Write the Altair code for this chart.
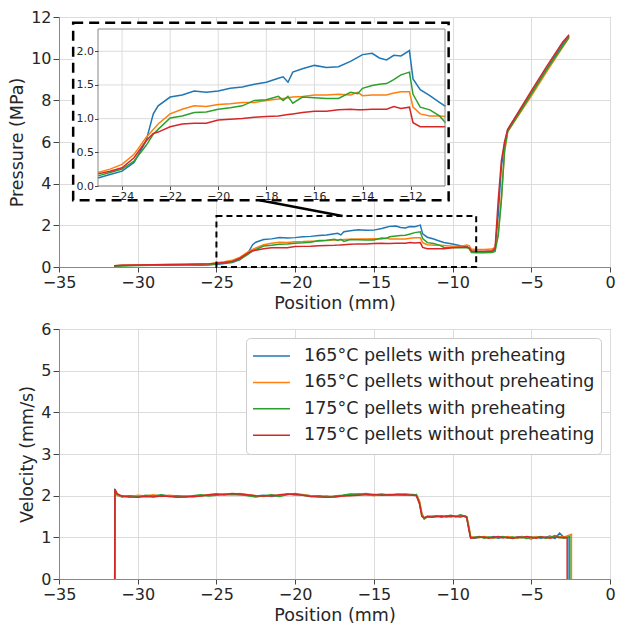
import altair as alt
import pandas as pd

SERIES = ["165°C pellets with preheating", "165°C pellets without preheating",
          "175°C pellets with preheating", "175°C pellets without preheating"]
COLORS = ["#1f77b4", "#ff7f0e", "#2ca02c", "#d62728"]

X_TICKS = [-35, -30, -25, -20, -15, -10, -5, 0]
P_TICKS = [0, 2, 4, 6, 8, 10, 12]
V_TICKS = [0, 1, 2, 3, 4, 5, 6]
INSET_X_TICKS = [-24, -22, -20, -18, -16, -14, -12]
INSET_Y_TICKS = [0.0, 0.5, 1.0, 1.5, 2.0]
INSET_X_DOMAIN = [-25.0, -10.57]
INSET_Y_DOMAIN = [0.0, 2.33]
ZOOM_BOX = [-25.0, -8.5, 0.0, 2.45]          # x, x2, y, y2 (data units)
INSET_BOX = [-34.1, -10.25, 3.2, 11.72]       # x, x2, y, y2 (data units)
CONNECTOR = [-22.25, 3.2, -17.0, 2.45]        # x, y, x2, y2 (data units)

# ---------------- pressure ----------------
P_X = [-31.5, -31.0, -30.0, -29.0, -28.0, -27.0, -26.0, -25.5, -25.0, -24.5,
       -24.0, -23.5, -23.0, -22.7, -22.5, -22.0, -21.5, -21.0, -20.5, -20.0,
       -19.5, -19.0, -18.5, -18.0, -17.5, -17.3, -17.1, -16.9, -16.5, -16.0,
       -15.5, -15.0, -14.5, -14.2, -14.0, -13.6, -13.3, -13.0, -12.7, -12.4,
       -12.05, -11.9, -11.6, -11.2, -10.8, -10.55, -10.0, -9.5, -9.1, -8.95,
       -8.8, -8.5, -8.0, -7.5, -7.3, -7.1, -6.9, -6.7, -6.5, -5.0,
       -4.0, -3.0, -2.6]
P_165_PRE = [0.05, 0.07, 0.09, 0.10, 0.11, 0.11, 0.12, 0.12, 0.12, 0.17,
             0.22, 0.35, 0.67, 1.07, 1.19, 1.32, 1.35, 1.41, 1.39, 1.41,
             1.45, 1.47, 1.51, 1.54, 1.60, 1.62, 1.54, 1.69, 1.74, 1.79,
             1.76, 1.77, 1.85, 1.91, 1.95, 1.97, 1.90, 1.87, 1.94, 1.93,
             2.01, 1.59, 1.43, 1.34, 1.24, 1.18, 1.10, 1.02, 0.98, 0.90,
             0.75, 0.72, 0.72, 0.75, 0.80, 2.50, 4.80, 5.90, 6.60, 8.35,
             9.55, 10.70, 11.10]
P_165_NOPRE = [0.06, 0.08, 0.10, 0.11, 0.12, 0.12, 0.13, 0.14, 0.20, 0.25,
               0.32, 0.47, 0.72, 0.84, 0.92, 1.07, 1.14, 1.19, 1.18, 1.21,
               1.22, 1.24, 1.24, 1.27, 1.29, 1.30, 1.31, 1.32, 1.33, 1.35,
               1.35, 1.36, 1.35, 1.39, 1.34, 1.35, 1.35, 1.35, 1.38, 1.40,
               1.40, 1.17, 1.07, 1.04, 1.04, 1.03, 1.00, 0.98, 1.06, 1.02,
               0.86, 0.84, 0.84, 0.86, 0.95, 1.60, 3.30, 5.50, 6.50, 8.20,
               9.40, 10.55, 11.00]
P_175_PRE = [0.04, 0.05, 0.07, 0.08, 0.08, 0.09, 0.09, 0.10, 0.15, 0.20,
             0.25, 0.37, 0.60, 0.77, 0.84, 1.01, 1.04, 1.09, 1.10, 1.14,
             1.16, 1.19, 1.27, 1.28, 1.33, 1.27, 1.33, 1.23, 1.32, 1.31,
             1.30, 1.30, 1.39, 1.37, 1.45, 1.49, 1.51, 1.52, 1.58, 1.65,
             1.69, 1.36, 1.17, 1.13, 1.04, 0.94, 0.93, 0.92, 0.93, 0.88,
             0.70, 0.68, 0.68, 0.70, 0.75, 1.50, 3.20, 5.60, 6.50, 8.30,
             9.50, 10.60, 11.05]
P_175_NOPRE = [0.06, 0.08, 0.10, 0.11, 0.12, 0.13, 0.14, 0.15, 0.18, 0.22,
               0.27, 0.42, 0.67, 0.78, 0.80, 0.88, 0.92, 0.93, 0.93, 0.98,
               0.99, 1.00, 1.02, 1.03, 1.04, 1.05, 1.06, 1.07, 1.09, 1.11,
               1.11, 1.13, 1.14, 1.13, 1.13, 1.14, 1.14, 1.14, 1.18, 1.15,
               1.17, 0.94, 0.88, 0.88, 0.88, 0.88, 0.92, 0.95, 0.96, 0.92,
               0.78, 0.76, 0.76, 0.78, 0.90, 3.20, 5.10, 6.00, 6.60, 8.45,
               9.65, 10.80, 11.15]

# ---------------- velocity ----------------
V_X = ([-31.46, -31.45, -31.3]
       + [-31.0, -30.5, -30.0, -29.5, -29.0, -28.5, -28.0, -27.5, -27.0, -26.5,
          -26.0, -25.5, -25.0, -24.5, -24.0, -23.5, -23.0, -22.5, -22.0, -21.5,
          -21.0, -20.5, -20.0, -19.5, -19.0, -18.5, -18.0, -17.5, -17.0, -16.5,
          -16.0, -15.5, -15.0, -14.5, -14.0, -13.5, -13.0, -12.5]
       + [-12.3, -12.1, -11.95, -11.8, -11.6]
       + [-11.3, -11.0, -10.7, -10.4, -10.1, -9.8, -9.5, -9.25]
       + [-9.1, -8.95, -8.85]
       + [-8.6, -8.3, -8.0, -7.7, -7.4, -7.1, -6.8, -6.5, -6.2, -5.9,
          -5.6, -5.3, -5.0, -4.7, -4.4, -4.1, -3.8, -3.5, -3.2, -2.9])
V_165_PRE = ([0.0, 2.12, 2.02]
             + [1.97, 1.99, 1.98, 2.00, 1.98, 2.01, 2.00, 1.97, 1.99, 1.98,
                2.00, 2.01, 2.03, 2.02, 2.04, 2.02, 2.01, 1.99, 2.01, 1.98,
                2.00, 2.03, 2.04, 2.02, 2.00, 1.99, 1.97, 1.98, 2.00, 2.02,
                2.04, 2.03, 2.01, 2.02, 2.03, 2.02, 2.01, 2.03]
             + [2.01, 1.85, 1.55, 1.45, 1.50]
             + [1.49, 1.51, 1.48, 1.52, 1.50, 1.51, 1.53, 1.50]
             + [1.48, 1.20, 1.00]
             + [0.98, 1.01, 1.00, 0.99, 1.02, 0.98, 1.00, 1.01, 0.97, 1.00,
                1.02, 0.99, 0.96, 1.01, 0.98, 1.00, 1.03, 0.97, 1.10, 0.99])
V_165_NOPRE = ([0.0, 2.10, 2.00]
               + [2.00, 1.96, 2.01, 1.99, 2.02, 1.98, 2.01, 1.99, 2.00, 1.97,
                  1.99, 2.02, 2.04, 2.01, 2.03, 2.05, 2.02, 2.00, 1.98, 2.01,
                  1.99, 2.04, 2.01, 2.03, 1.99, 1.98, 2.00, 1.97, 1.99, 2.03,
                  2.02, 2.04, 2.00, 2.03, 2.01, 2.04, 2.02, 2.01]
               + [2.03, 1.88, 1.58, 1.46, 1.51]
               + [1.51, 1.49, 1.52, 1.50, 1.48, 1.52, 1.50, 1.52]
               + [1.50, 1.25, 1.01]
               + [1.01, 0.99, 1.02, 1.00, 0.98, 1.01, 0.99, 1.02, 1.00, 0.97,
                  1.01, 1.00, 0.98, 1.02, 1.00, 0.99, 1.01, 1.00, 1.02, 1.01])
V_175_PRE = ([0.0, 2.09, 2.03]
             + [1.98, 2.00, 1.97, 2.01, 1.99, 2.02, 1.98, 2.00, 1.97, 2.00,
                2.02, 1.99, 2.01, 2.04, 2.02, 2.03, 2.00, 1.97, 2.00, 2.02,
                1.98, 2.03, 2.05, 2.01, 1.98, 2.00, 1.96, 1.99, 2.01, 2.04,
                2.03, 2.05, 2.02, 2.04, 2.01, 2.03, 2.04, 2.02]
             + [2.02, 1.82, 1.52, 1.44, 1.49]
             + [1.50, 1.52, 1.49, 1.51, 1.53, 1.49, 1.54, 1.51]
             + [1.49, 1.18, 0.99]
             + [1.00, 1.02, 0.98, 1.01, 0.99, 1.00, 1.02, 0.98, 1.01, 0.99,
                1.00, 0.97, 1.01, 0.99, 1.02, 0.98, 1.00, 1.04, 1.00, 0.98])
V_175_NOPRE = ([0.0, 2.16, 2.05]
               + [1.99, 1.97, 1.96, 1.98, 1.97, 1.99, 1.98, 1.96, 1.97, 1.98,
                  1.99, 2.02, 2.04, 2.03, 2.05, 2.04, 2.02, 2.00, 1.99, 2.00,
                  2.02, 2.04, 2.03, 2.01, 1.98, 1.97, 1.96, 1.97, 1.99, 2.00,
                  2.01, 2.02, 2.03, 2.01, 2.02, 2.03, 2.02, 2.01]
               + [2.00, 1.80, 1.50, 1.47, 1.50]
               + [1.48, 1.50, 1.51, 1.49, 1.52, 1.50, 1.49, 1.51]
               + [1.47, 1.15, 0.98]
               + [0.99, 1.00, 1.01, 0.98, 1.00, 1.02, 0.99, 1.00, 0.98, 1.01,
                  0.99, 1.02, 1.00, 0.98, 1.01, 1.00, 0.98, 1.01, 0.99, 1.00])
V_END_X = [-2.60, -2.45, -2.55, -2.72]
V_END_Y = [1.00, 1.07, 1.02, 0.99]

FONT = "DejaVu Sans"
W, H = 551, 250

# ---------------- tables ----------------
p_rows = []
for name, ys in zip(SERIES, [P_165_PRE, P_165_NOPRE, P_175_PRE, P_175_NOPRE]):
    for i, (x, y) in enumerate(zip(P_X, ys)):
        p_rows.append({"series": name, "x": x, "y": y, "i": i})
p_df = pd.DataFrame(p_rows)

v_rows = []
for name, ys, ex, ey in zip(SERIES, [V_165_PRE, V_165_NOPRE, V_175_PRE, V_175_NOPRE], V_END_X, V_END_Y):
    xs = V_X + [ex, ex]
    vs = ys + [ey, 0.0]
    for i, (x, y) in enumerate(zip(xs, vs)):
        v_rows.append({"series": name, "x": x, "y": y, "i": i})
v_df = pd.DataFrame(v_rows)

inset_df = p_df[(p_df["x"] >= INSET_X_DOMAIN[0]) & (p_df["x"] <= -10.5)]

# ---------------- top panel ----------------
x_main = alt.Scale(domain=[-35, 0], nice=False, zero=False)
y_p = alt.Scale(domain=[0, 12], nice=False)
color_scale = alt.Scale(domain=SERIES, range=COLORS)

main_x_axis = alt.Axis(orient="bottom", values=X_TICKS, title="Position (mm)", labelFlush=False)

main_lines = alt.Chart(p_df).mark_line(strokeWidth=1.5, clip=True).encode(
    x=alt.X("x:Q", scale=x_main, axis=main_x_axis),
    y=alt.Y("y:Q", scale=y_p, axis=alt.Axis(orient="left", values=P_TICKS, title="Pressure (MPa)")),
    color=alt.Color("series:N", scale=color_scale, legend=None),
    order="i:Q",
)

zoom_df = pd.DataFrame({"x": [ZOOM_BOX[0]], "x2": [ZOOM_BOX[1]], "y": [ZOOM_BOX[2]], "y2": [ZOOM_BOX[3]]})
zoom_rect = alt.Chart(zoom_df).mark_rect(
    fill="white", fillOpacity=0, stroke="black", strokeWidth=2, strokeDash=[6, 4]
).encode(
    x=alt.X("x:Q", scale=x_main, axis=None), x2="x2:Q",
    y=alt.Y("y:Q", scale=y_p, axis=None), y2="y2:Q",
)

conn_df = pd.DataFrame({"x": [CONNECTOR[0]], "y": [CONNECTOR[1]], "x2": [CONNECTOR[2]], "y2": [CONNECTOR[3]]})
connector = alt.Chart(conn_df).mark_rule(color="black", strokeWidth=2.5).encode(
    x=alt.X("x:Q", scale=x_main, axis=None), x2="x2:Q",
    y=alt.Y("y:Q", scale=y_p, axis=None), y2="y2:Q",
)

box_df = pd.DataFrame({"x": [INSET_BOX[0]], "x2": [INSET_BOX[1]], "y": [INSET_BOX[2]], "y2": [INSET_BOX[3]]})
inset_box = alt.Chart(box_df).mark_rect(
    fill="white", stroke="black", strokeWidth=2.5, strokeDash=[10, 6]
).encode(
    x=alt.X("x:Q", scale=x_main, axis=None), x2="x2:Q",
    y=alt.Y("y:Q", scale=y_p, axis=None), y2="y2:Q",
)

# inset axes rectangle, in plot pixels (scaled with the panel width)
IX0 = round(40 * W / 560)
IX1 = round(392 * W / 560)
ix = alt.Scale(domain=INSET_X_DOMAIN, range=[IX0, IX1], nice=False, zero=False)
iy = alt.Scale(domain=INSET_Y_DOMAIN, range=[169, 12], nice=False, zero=False)

vgrid_df = pd.DataFrame({"x": INSET_X_TICKS, "y": [INSET_Y_DOMAIN[0]] * len(INSET_X_TICKS),
                         "y2": [INSET_Y_DOMAIN[1]] * len(INSET_X_TICKS)})
vgrid = alt.Chart(vgrid_df).mark_rule(color="#dcdcdc", strokeWidth=1).encode(
    x=alt.X("x:Q", scale=ix, axis=None),
    y=alt.Y("y:Q", scale=iy, axis=None), y2="y2:Q",
)
hgrid_df = pd.DataFrame({"y": INSET_Y_TICKS, "x": [INSET_X_DOMAIN[0]] * len(INSET_Y_TICKS),
                         "x2": [INSET_X_DOMAIN[1]] * len(INSET_Y_TICKS)})
hgrid = alt.Chart(hgrid_df).mark_rule(color="#dcdcdc", strokeWidth=1).encode(
    x=alt.X("x:Q", scale=ix, axis=None), x2="x2:Q",
    y=alt.Y("y:Q", scale=iy, axis=None),
)

inset_lines = alt.Chart(inset_df).mark_line(strokeWidth=1.5).encode(
    x=alt.X("x:Q", scale=ix, axis=alt.Axis(
        orient="bottom", offset=-81, values=INSET_X_TICKS, grid=False, domain=False, labelFlush=False,
        labelFontSize=11, tickSize=3.5, labelPadding=1, title=None, zindex=1)),
    y=alt.Y("y:Q", scale=iy, axis=alt.Axis(
        orient="left", offset=-IX0, values=INSET_Y_TICKS, format=".1f", grid=False, domain=False,
        labelFontSize=11, tickSize=3.5, labelPadding=1, title=None, zindex=1)),
    color=alt.Color("series:N", scale=color_scale, legend=None),
    order="i:Q",
)

frame_df = pd.DataFrame({"x": [INSET_X_DOMAIN[0]], "x2": [INSET_X_DOMAIN[1]],
                         "y": [INSET_Y_DOMAIN[0]], "y2": [INSET_Y_DOMAIN[1]]})
frame = alt.Chart(frame_df).mark_rect(fill="white", fillOpacity=0, stroke="#888888", strokeWidth=1).encode(
    x=alt.X("x:Q", scale=ix, axis=None), x2="x2:Q",
    y=alt.Y("y:Q", scale=iy, axis=None), y2="y2:Q",
)

top = alt.layer(
    main_lines, zoom_rect, connector, inset_box, vgrid, hgrid, inset_lines, frame
).resolve_scale(x="independent", y="independent").properties(width=W, height=H)

# ---------------- bottom panel ----------------
bottom = alt.Chart(v_df).mark_line(strokeWidth=1.5, clip=True).encode(
    x=alt.X("x:Q", scale=x_main, axis=main_x_axis),
    y=alt.Y("y:Q", scale=alt.Scale(domain=[0, 6], nice=False),
            axis=alt.Axis(orient="left", values=V_TICKS, title="Velocity (mm/s)")),
    color=alt.Color("series:N", scale=color_scale, legend=alt.Legend(
        title=None, orient="top-right", offset=9, symbolType="stroke", symbolSize=1369,
        symbolStrokeWidth=1.5, clipHeight=24, rowPadding=2.4, labelOffset=13,
        labelFontSize=17.5, labelFont=FONT, labelColor="#262626", labelLimit=400,
        fillColor="white", strokeColor="#cccccc", cornerRadius=4, padding=6)),
    order="i:Q",
).properties(width=W, height=H)

chart = alt.vconcat(top, bottom, spacing=8).resolve_scale(
    x="independent", y="independent", color="independent"
).properties(
    padding={"left": 0, "top": 0, "right": 0, "bottom": 0}
).configure_axis(
    labelFont=FONT, titleFont=FONT, labelFontSize=16, titleFontSize=17.5,
    labelColor="#262626", titleColor="#262626", titleFontWeight="normal",
    gridColor="#dcdcdc", domainColor="#888888", tickColor="#444444",
).configure_axisX(
    tickSize=5, labelPadding=2, titlePadding=4,
).configure_axisY(
    tickSize=6, labelPadding=2, titlePadding=4,
).configure_view(stroke="#888888", strokeWidth=1)

chart.save("out.html", embed_options={"renderer": "svg", "actions": False})
